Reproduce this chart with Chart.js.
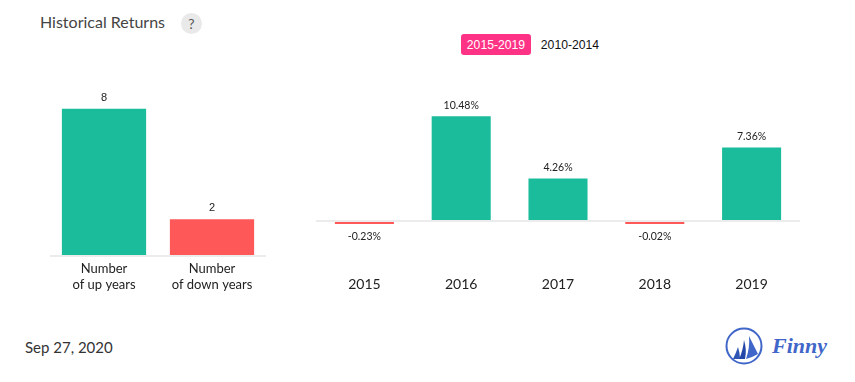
<!DOCTYPE html>
<html>
<head>
<meta charset="utf-8">
<script src="https://cdn.jsdelivr.net/npm/chart.js@4"></script>
<style>
    html, body { margin: 0; padding: 0; background: #fff; }
    body { width: 855px; height: 382px; position: relative; overflow: hidden; font-family: Lato, sans-serif; }
    canvas { position: absolute; }
    #title { position: absolute; left: 40px; top: 12px; font-size: 16px; line-height: 20px; color: #444; }
    #help { position: absolute; left: 181px; top: 13px; width: 21px; height: 21px; border-radius: 50%; background: #e9e9e9; color: #555; font-size: 14px; line-height: 21px; text-align: center; }
    .range { position: absolute; top: 34px; height: 21px; line-height: 22px; font-family: "Liberation Sans", sans-serif; font-size: 12.2px; text-align: center; color: #111; }
    #range-a { left: 461px; width: 70px; background: #ff3385; color: #fff; border-radius: 3px; }
    #range-b { left: 536px; width: 68px; }
    #date { position: absolute; left: 25px; top: 337px; font-size: 15px; line-height: 20px; color: #333; }
    #logo { position: absolute; left: 725px; top: 326px; }
    #brand { position: absolute; left: 772px; top: 332px; font-family: "Liberation Serif", serif; font-style: italic; font-weight: 700; font-size: 22px; line-height: 28px; color: #3f66c8; }
</style>
</head>
<body>
<div id="title">Historical Returns</div>
<div id="help">?</div>
<div class="range" id="range-a">2015-2019</div>
<div class="range" id="range-b">2010-2014</div>
<canvas id="countChart" width="216" height="229" style="left:50px;top:72px"></canvas>
<canvas id="returnChart" width="484" height="231" style="left:316px;top:81px"></canvas>
<div id="date">Sep 27, 2020</div>
<svg id="logo" width="40" height="40" viewBox="0 0 40 40">
    <circle cx="19" cy="20" r="17.5" fill="none" stroke="#3f66c8" stroke-width="2"></circle>
    <path d="M8 33 Q11 27 13 21 Q15 27 15 33 Z" fill="#2f55b5"></path>
    <path d="M14 33 Q18 25 19 14 Q22 24 20 33 Z" fill="#2347a8"></path>
    <path d="M21 33 Q25 22 24 10 Q29 20 33 28 Q28 31 21 33 Z" fill="#3f66c8"></path>
</svg>
<div id="brand">Finny</div>
<script>
const countLabels = [['Number', 'of up years'], ['Number', 'of down years']];
const countValues = [8, 2];
const years = ['2015', '2016', '2017', '2018', '2019'];
const returnValues = [-0.23, 10.48, 4.26, -0.02, 7.36];
const returnText = ['-0.23%', '10.48%', '4.26%', '-0.02%', '7.36%'];

const UP = '#1abc9c';
const DOWN = '#ff5858';

const valueLabels = {
    id: 'valueLabels',
    afterDatasetsDraw(chart, args, opts) {
        const ctx = chart.ctx;
        const meta = chart.getDatasetMeta(0);
        ctx.save();
        ctx.font = opts.font;
        ctx.fillStyle = '#222';
        ctx.textAlign = 'center';
        ctx.textBaseline = 'middle';
        meta.data.forEach((bar, i) => {
            const value = chart.data.datasets[0].data[i];
            const y = value < 0 ? bar.base + 15 : bar.y - opts.gap;
            ctx.fillText(opts.text[i], bar.x, y);
        });
        ctx.restore();
    }
};

function baseOptions(labelOpts, yMin, yMax, xHeight, tickFont, tickPad) {
    return {
        responsive: false,
        animation: false,
        layout: { padding: 0 },
        plugins: {
            legend: { display: false },
            tooltip: { enabled: false },
            valueLabels: labelOpts
        },
        scales: {
            x: {
                grid: { display: false },
                border: { display: false },
                ticks: { color: '#222', font: tickFont, padding: tickPad, maxRotation: 0, autoSkip: false },
                afterFit(scale) { scale.height = xHeight; }
            },
            y: {
                display: true,
                min: yMin,
                max: yMax,
                afterFit(scale) { scale.width = 0; },
                ticks: { display: false, stepSize: 1 },
                border: { display: false },
                grid: {
                    drawTicks: false,
                    lineWidth: 2,
                    color: c => c.tick.value === 0 ? '#ececec' : 'transparent'
                }
            }
        }
    };
}

new Chart(document.getElementById('countChart').getContext('2d'), {
    type: 'bar',
    data: {
        labels: countLabels,
        datasets: [{
            data: countValues,
            backgroundColor: [UP, DOWN],
            categoryPercentage: 1,
            barPercentage: 0.78
        }]
    },
    options: baseOptions({ text: countValues.map(String), gap: 11, font: '11px "Liberation Sans"' }, 0, 10, 45, { family: 'Lato', size: 13, lineHeight: 1.2 }, -3),
    plugins: [valueLabels]
});

new Chart(document.getElementById('returnChart').getContext('2d'), {
    type: 'bar',
    data: {
        labels: years,
        datasets: [{
            data: returnValues,
            backgroundColor: returnValues.map(v => v < 0 ? DOWN : UP),
            categoryPercentage: 1,
            barPercentage: 0.61,
            minBarLength: 3
        }]
    },
    options: baseOptions({ text: returnText, gap: 11, font: '10.5px Lato' }, -4, 14, 51, { family: 'Lato', size: 14 }, 7),
    plugins: [valueLabels]
});
</script>
</body>
</html>
